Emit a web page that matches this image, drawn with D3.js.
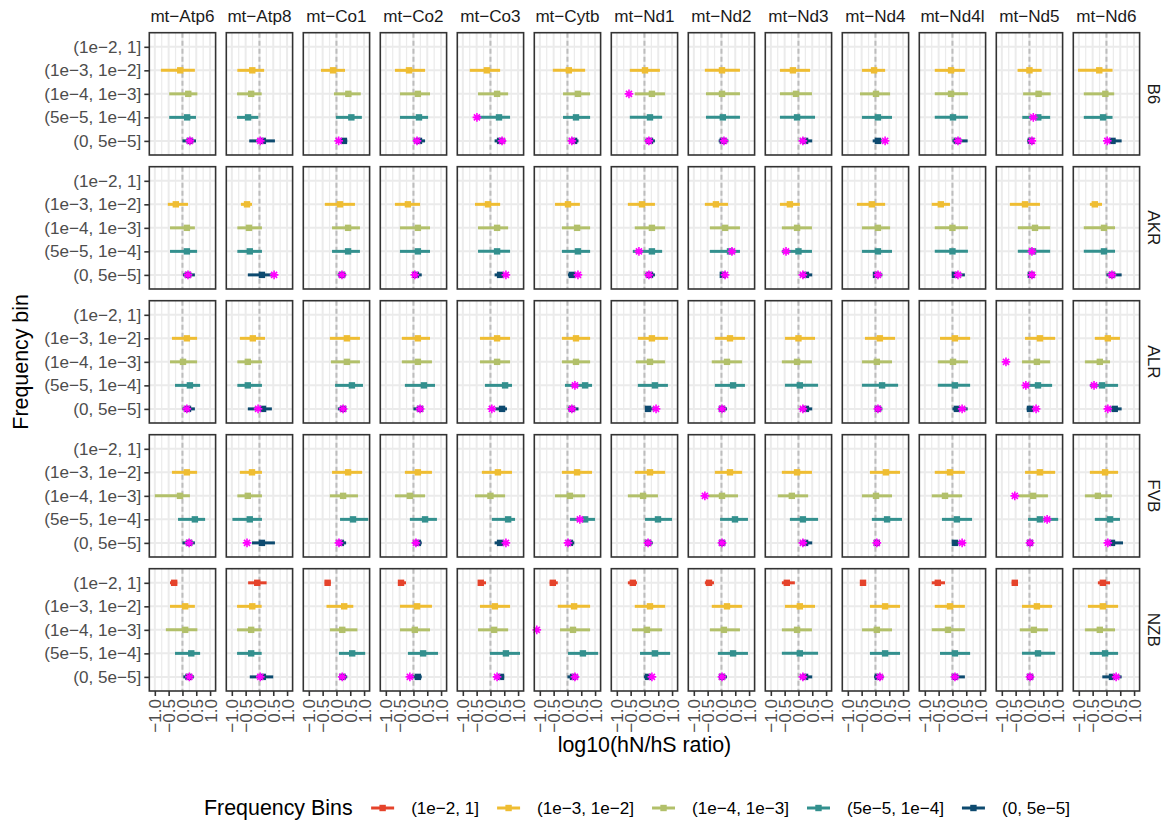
<!DOCTYPE html>
<html>
<head>
<meta charset="utf-8">
<script src="https://cdn.jsdelivr.net/npm/d3@7"></script>
<style>
  body { margin: 0; background: #fff; }
  text { font-family: "Liberation Sans", Arial, sans-serif; }
</style>
</head>
<body>
<svg id="chart" width="1170" height="826"></svg>
<script>
// categories
const genes = ["mt−Atp6","mt−Atp8","mt−Co1","mt−Co2","mt−Co3","mt−Cytb","mt−Nd1","mt−Nd2","mt−Nd3","mt−Nd4","mt−Nd4l","mt−Nd5","mt−Nd6"];
const strains = ["B6","AKR","ALR","FVB","NZB"];
const bins = ["(1e−2, 1]","(1e−3, 1e−2]","(1e−4, 1e−3]","(5e−5, 1e−4]","(0, 5e−5]"];
const binColors = ["#e5432b","#efbd32","#b2c06a","#33908e","#0d4a6f"];
const xTicks = [-1, -0.5, 0, 0.5, 1];

// [low, estimate, high] per gene, one array per strain and frequency bin
const B6_b1 = [[-0.78,-0.08,0.45],[-0.80,-0.26,0.17],[-0.56,-0.12,0.31],[-0.67,-0.16,0.42],[-0.75,-0.13,0.35],[-0.53,0.05,0.64],[-0.53,0.02,0.56],[-0.60,0.02,0.67],[-0.67,-0.20,0.42],[-0.49,-0.05,0.35],[-0.64,-0.05,0.45],[-0.43,0.0,0.44],[-1.03,-0.26,0.22]];
const B6_b2 = [[-0.48,0.21,0.54],[-0.81,-0.30,0.08],[-0.09,0.43,0.88],[-0.49,0.16,0.60],[-0.45,0.24,0.64],[-0.16,0.38,0.82],[-0.35,0.27,0.75],[-0.56,0.02,0.67],[-0.67,-0.09,0.49],[-0.56,0.02,0.53],[-0.64,-0.05,0.56],[-0.23,0.33,0.77],[-0.82,-0.04,0.28]];
const B6_b3 = [[-0.48,0.17,0.49],[-0.81,-0.41,-0.04],[-0.02,0.54,0.92],[-0.49,0.20,0.53],[-0.45,0.31,0.71],[-0.16,0.31,0.82],[-0.53,0.20,0.64],[-0.56,0.05,0.67],[-0.67,-0.05,0.60],[-0.49,0.09,0.60],[-0.64,0.02,0.56],[-0.26,0.32,0.75],[-0.82,-0.12,0.22]];
const B6_b4 = [[0.0,0.27,0.49],[-0.37,0.12,0.56],[0.0,0.27,0.39],[0.0,0.20,0.42],[0.15,0.35,0.55],[0.05,0.24,0.40],[0.02,0.20,0.38],[-0.10,0.05,0.25],[0.05,0.24,0.50],[-0.10,0.09,0.25],[0.0,0.16,0.55],[-0.08,0.05,0.10],[0.03,0.22,0.55]];

const AKR_b1 = [[-0.53,-0.24,0.20],[-0.67,-0.45,-0.27],[-0.42,0.13,0.67],[-0.67,-0.20,0.24],[-0.56,-0.09,0.35],[-0.45,0.02,0.45],[-0.60,-0.09,0.38],[-0.60,-0.20,0.24],[-0.67,-0.31,0.05],[-0.67,-0.13,0.35],[-0.75,-0.42,-0.09],[-0.71,-0.16,0.38],[-0.60,-0.42,-0.16]];
const AKR_b2 = [[-0.45,0.16,0.45],[-0.80,-0.38,0.09],[-0.16,0.42,0.85],[-0.49,0.16,0.60],[-0.45,0.24,0.64],[-0.20,0.35,0.82],[-0.35,0.27,0.75],[-0.42,0.13,0.67],[-0.60,-0.05,0.49],[-0.49,0.09,0.53],[-0.64,0.0,0.56],[-0.42,0.20,0.75],[-0.82,-0.09,0.31]];
const AKR_b3 = [[-0.45,0.16,0.53],[-0.80,-0.35,0.09],[-0.16,0.42,0.85],[-0.49,0.16,0.60],[-0.45,0.24,0.71],[-0.20,0.38,0.82],[-0.42,0.27,0.64],[-0.42,0.31,0.67],[-0.60,0.0,0.49],[-0.49,0.09,0.60],[-0.64,0.0,0.56],[-0.42,0.13,0.75],[-0.82,-0.09,0.31]];
const AKR_b4 = [[0.02,0.20,0.45],[-0.42,0.09,0.45],[0.05,0.20,0.35],[-0.05,0.09,0.30],[0.15,0.35,0.55],[0.02,0.16,0.40],[0.02,0.20,0.38],[-0.05,0.05,0.20],[0.05,0.27,0.50],[-0.05,0.02,0.25],[0.0,0.09,0.45],[-0.05,0.05,0.20],[0.0,0.20,0.55]];

const ALR_b1 = [[-0.38,0.16,0.53],[-0.71,-0.24,0.20],[-0.24,0.38,0.85],[-0.42,0.16,0.60],[-0.38,0.24,0.71],[-0.20,0.31,0.82],[-0.24,0.27,0.85],[-0.24,0.31,0.85],[-0.49,0.0,0.60],[-0.38,0.16,0.71],[-0.45,0.09,0.64],[-0.16,0.38,0.93],[-0.42,0.05,0.49]];
const ALR_b2 = [[-0.45,0.02,0.53],[-0.80,-0.42,0.09],[-0.20,0.38,0.85],[-0.42,0.16,0.67],[-0.38,0.24,0.71],[-0.20,0.31,0.82],[-0.31,0.20,0.75],[-0.35,0.20,0.75],[-0.60,-0.05,0.49],[-0.49,0.05,0.60],[-0.53,0.02,0.56],[-0.27,0.27,0.75],[-0.78,-0.24,0.13]];
const ALR_b3 = [[-0.27,0.27,0.64],[-0.80,-0.42,0.09],[-0.05,0.56,0.96],[-0.31,0.38,0.78],[-0.20,0.53,0.78],[-0.09,0.64,0.89],[-0.24,0.38,0.85],[-0.24,0.42,0.85],[-0.49,0.05,0.71],[-0.49,0.24,0.82],[-0.53,0.09,0.64],[-0.16,0.31,0.82],[-0.60,-0.16,0.42]];
const ALR_b4 = [[0.0,0.20,0.45],[-0.42,0.13,0.45],[0.05,0.24,0.35],[0.0,0.24,0.35],[0.15,0.42,0.60],[0.02,0.16,0.40],[0.02,0.13,0.38],[-0.10,0.02,0.20],[0.05,0.27,0.50],[-0.02,0.09,0.25],[0.0,0.16,0.55],[-0.10,0.02,0.15],[0.0,0.30,0.55]];

const FVB_b1 = [[-0.38,0.16,0.53],[-0.71,-0.27,0.09],[-0.16,0.42,0.93],[-0.31,0.16,0.67],[-0.31,0.27,0.78],[-0.20,0.35,0.89],[-0.35,0.20,0.75],[-0.24,0.31,0.75],[-0.60,-0.05,0.49],[-0.20,0.38,0.89],[-0.64,-0.09,0.45],[-0.16,0.38,0.93],[-0.60,-0.05,0.42]];
const FVB_b2 = [[-1.00,-0.09,0.27],[-0.80,-0.42,0.09],[-0.24,0.24,0.78],[-0.67,-0.13,0.42],[-0.56,0.0,0.53],[-0.45,0.09,0.64],[-0.60,-0.05,0.49],[-0.49,0.02,0.60],[-0.75,-0.24,0.35],[-0.49,0.02,0.60],[-0.75,-0.27,0.35],[-0.42,0.13,0.67],[-0.78,-0.31,0.20]];
const FVB_b3 = [[-0.16,0.45,0.82],[-0.98,-0.35,0.09],[0.13,0.60,1.15],[-0.13,0.42,0.85],[0.05,0.64,0.89],[0.09,0.64,1.0],[0.02,0.49,1.0],[-0.05,0.49,0.96],[-0.31,0.16,0.71],[-0.13,0.42,0.96],[-0.38,0.16,0.71],[-0.05,0.38,1.04],[-0.42,0.13,0.49]];
const FVB_b4 = [[0.0,0.24,0.45],[-0.27,0.09,0.56],[0.0,0.16,0.35],[-0.02,0.16,0.30],[0.15,0.35,0.55],[-0.05,0.09,0.25],[0.02,0.13,0.30],[-0.05,0.02,0.15],[0.05,0.24,0.50],[-0.02,0.05,0.15],[0.0,0.09,0.45],[-0.08,0.02,0.12],[0.0,0.20,0.60]];

const NZB_b0 = [[-0.45,-0.30,-0.19],[-0.41,-0.08,0.26],[-0.42,-0.32,-0.21],[-0.56,-0.45,-0.27],[-0.45,-0.35,-0.16],[-0.64,-0.53,-0.35],[-0.60,-0.42,-0.27],[-0.60,-0.45,-0.27],[-0.60,-0.42,-0.13],[-0.56,-0.45,-0.35],[-0.75,-0.53,-0.27],[-0.64,-0.53,-0.42],[-0.31,-0.13,0.13]];
const NZB_b1 = [[-0.45,0.10,0.45],[-0.81,-0.26,0.08],[-0.36,0.28,0.61],[-0.49,0.13,0.67],[-0.38,0.16,0.71],[-0.35,0.24,0.82],[-0.35,0.20,0.75],[-0.35,0.20,0.75],[-0.49,0.05,0.60],[-0.20,0.35,0.89],[-0.64,-0.09,0.45],[-0.27,0.27,0.82],[-0.67,-0.13,0.42]];
const NZB_b2 = [[-0.60,0.10,0.54],[-0.81,-0.30,0.08],[-0.24,0.21,0.76],[-0.49,0.05,0.60],[-0.45,0.13,0.64],[-0.27,0.20,0.82],[-0.45,0.09,0.64],[-0.42,0.09,0.67],[-0.60,-0.05,0.49],[-0.49,0.05,0.60],[-0.75,-0.16,0.45],[-0.35,0.16,0.67],[-0.78,-0.24,0.31]];
const NZB_b3 = [[-0.27,0.32,0.64],[-0.81,-0.30,0.08],[0.09,0.57,1.04],[-0.20,0.35,0.89],[-0.02,0.56,1.07],[0.02,0.56,1.11],[-0.16,0.38,0.93],[-0.13,0.42,0.96],[-0.60,0.05,0.71],[-0.20,0.35,0.89],[-0.45,0.09,0.64],[-0.27,0.31,0.93],[-0.60,-0.05,0.42]];
const NZB_b4 = [[0.03,0.22,0.42],[-0.35,0.12,0.50],[0.13,0.22,0.39],[-0.05,0.16,0.30],[0.15,0.38,0.50],[0.0,0.20,0.40],[-0.02,0.13,0.30],[-0.08,0.02,0.20],[0.05,0.24,0.50],[-0.05,0.09,0.30],[0.0,0.09,0.45],[-0.08,0.02,0.15],[-0.15,0.20,0.55]];

// observed ratios (magenta stars): [gene index, bin index, value]
const B6_obs = [[0,4,0.27],[1,4,0.03],[2,4,0.08],[3,4,0.13],[4,3,-0.49],[4,4,0.42],[5,4,0.16],[6,2,-0.56],[6,4,0.16],[7,4,0.09],[8,4,0.16],[9,4,0.35],[10,4,0.20],[11,3,0.14],[11,4,0.09],[12,4,0.03]];
const AKR_obs = [[0,4,0.20],[1,4,0.53],[2,4,0.20],[3,4,0.05],[4,4,0.56],[5,4,0.38],[6,3,-0.20],[6,4,0.16],[7,3,0.38],[7,4,0.13],[8,3,-0.45],[8,4,0.16],[9,4,0.09],[10,4,0.20],[11,3,0.09],[11,4,0.09],[12,4,0.20]];
const ALR_obs = [[0,4,0.16],[1,4,-0.05],[2,4,0.24],[3,4,0.24],[4,4,0.05],[5,3,0.27],[5,4,0.16],[6,4,0.42],[7,4,0.02],[8,4,0.16],[9,4,0.09],[10,4,0.35],[11,2,-0.85],[11,3,-0.13],[11,4,0.24],[12,3,-0.45],[12,4,0.05]];
const FVB_obs = [[0,4,0.24],[1,4,-0.45],[2,4,0.09],[3,4,0.09],[4,4,0.56],[5,3,0.45],[5,4,0.02],[6,4,0.13],[7,2,-0.60],[7,4,0.02],[8,4,0.16],[9,4,0.05],[10,4,0.35],[11,2,-0.53],[11,3,0.64],[11,4,0.02],[12,4,0.05]];
const NZB_obs = [[0,4,0.25],[1,4,0.03],[2,4,0.21],[3,4,-0.13],[4,4,0.24],[5,2,-1.11],[5,4,0.27],[6,4,0.27],[7,4,0.02],[8,4,0.16],[9,4,0.16],[10,4,0.09],[11,4,0.02],[12,4,0.35]];

const strainBins = {
  B6: [null, B6_b1, B6_b2, B6_b3, B6_b4],
  AKR: [null, AKR_b1, AKR_b2, AKR_b3, AKR_b4],
  ALR: [null, ALR_b1, ALR_b2, ALR_b3, ALR_b4],
  FVB: [null, FVB_b1, FVB_b2, FVB_b3, FVB_b4],
  NZB: [NZB_b0, NZB_b1, NZB_b2, NZB_b3, NZB_b4]
};
const strainObs = { B6: B6_obs, AKR: AKR_obs, ALR: ALR_obs, FVB: FVB_obs, NZB: NZB_obs };

// layout
const panelX0 = 149.3, colStep = 77, panelW = 66.3;
const panelY0 = 32.7, rowStep = 134, panelH = 122.3;
const tickFont = 17.1, titleFont = 21.4;

const svg = d3.select('#chart');

const x = d3.scaleLinear().domain([-1.2, 1.2]).range([0, panelW]);
const y = d3.scalePoint().domain(bins).range([0, panelH]).padding(0.6);

const starPath = (r) => {
  const k = r * 0.7071;
  return `M${-r},0H${r}M0,${-r}V${r}M${-k},${-k}L${k},${k}M${-k},${k}L${k},${-k}`;
};

strains.forEach((strain, r) => {
  genes.forEach((gene, c) => {
    const g = svg.append('g')
      .attr('transform', `translate(${panelX0 + c * colStep},${panelY0 + r * rowStep})`);

    g.append('rect').attr('width', panelW).attr('height', panelH).attr('fill', '#fff');

    // grid
    g.selectAll('.minor').data([-0.75, -0.25, 0.25, 0.75]).join('line')
      .attr('x1', d => x(d)).attr('x2', d => x(d))
      .attr('y1', 0).attr('y2', panelH)
      .attr('stroke', '#ebebeb').attr('stroke-width', 1.2);
    g.selectAll('.major').data(xTicks).join('line')
      .attr('x1', d => x(d)).attr('x2', d => x(d))
      .attr('y1', 0).attr('y2', panelH)
      .attr('stroke', '#ebebeb').attr('stroke-width', 2);
    g.selectAll('.hgrid').data(bins).join('line')
      .attr('x1', 0).attr('x2', panelW)
      .attr('y1', d => y(d)).attr('y2', d => y(d))
      .attr('stroke', '#ebebeb').attr('stroke-width', 2);

    // reference line at 0
    g.append('line')
      .attr('x1', x(0)).attr('x2', x(0))
      .attr('y1', 0).attr('y2', panelH)
      .attr('stroke', '#bdbdbd').attr('stroke-width', 2)
      .attr('stroke-dasharray', '5,3');

    // estimates with intervals
    const rows = [];
    strainBins[strain].forEach((arr, b) => {
      if (arr) rows.push({ bin: b, lo: arr[c][0], mid: arr[c][1], hi: arr[c][2] });
    });
    g.selectAll('.bar').data(rows).join('line')
      .attr('x1', d => x(d.lo)).attr('x2', d => x(d.hi))
      .attr('y1', d => y(bins[d.bin])).attr('y2', d => y(bins[d.bin]))
      .attr('stroke', d => binColors[d.bin]).attr('stroke-width', 3);
    g.selectAll('.pt').data(rows).join('rect')
      .attr('x', d => x(d.mid) - 3.2).attr('y', d => y(bins[d.bin]) - 3.2)
      .attr('width', 6.4).attr('height', 6.4)
      .attr('fill', d => binColors[d.bin]);

    // observed
    const obs = strainObs[strain].filter(d => d[0] === c);
    g.selectAll('.obs').data(obs).join('path')
      .attr('d', starPath(4.3))
      .attr('transform', d => `translate(${x(d[2])},${y(bins[d[1]])})`)
      .attr('fill', 'none').attr('stroke', '#ff00ff').attr('stroke-width', 1.6);

    g.append('rect').attr('width', panelW).attr('height', panelH)
      .attr('fill', 'none').attr('stroke', '#333').attr('stroke-width', 1.6);

    // axes
    if (c === 0) {
      const ax = g.append('g').call(d3.axisLeft(y).tickSize(5).tickPadding(3));
      ax.select('.domain').remove();
      ax.selectAll('line').attr('stroke', '#333').attr('stroke-width', 1.6);
      ax.selectAll('text').attr('fill', '#4d4d4d').attr('font-size', tickFont)
        .attr('font-family', '"Liberation Sans", Arial, sans-serif');
    }
    if (r === strains.length - 1) {
      const ax = g.append('g').attr('transform', `translate(0,${panelH})`)
        .call(d3.axisBottom(x).tickValues(xTicks).tickFormat(d3.format('.1f')).tickSize(5));
      ax.select('.domain').remove();
      ax.selectAll('line').attr('stroke', '#333').attr('stroke-width', 1.6);
      ax.selectAll('text').attr('fill', '#4d4d4d').attr('font-size', tickFont)
        .attr('font-family', '"Liberation Sans", Arial, sans-serif')
        .attr('text-anchor', 'end')
        .attr('transform', 'translate(0,8) rotate(-90)')
        .attr('x', 0).attr('y', 0).attr('dy', '0.35em');
    }
  });
});

// strip labels
svg.selectAll('.gene-strip').data(genes).join('text')
  .attr('x', (d, i) => panelX0 + i * colStep + panelW / 2)
  .attr('y', 22)
  .attr('text-anchor', 'middle')
  .attr('font-size', tickFont).attr('fill', '#1a1a1a')
  .text(d => d);

svg.selectAll('.strain-strip').data(strains).join('text')
  .attr('transform', (d, i) => `translate(1148,${panelY0 + i * rowStep + panelH / 2}) rotate(90)`)
  .attr('text-anchor', 'middle')
  .attr('font-size', tickFont).attr('fill', '#1a1a1a')
  .text(d => d);

// axis titles
const plotMidX = panelX0 + (genes.length - 1) * colStep / 2 + panelW / 2;
const plotMidY = panelY0 + (strains.length - 1) * rowStep / 2 + panelH / 2;
svg.append('text')
  .attr('x', plotMidX).attr('y', 752)
  .attr('text-anchor', 'middle').attr('font-size', titleFont)
  .text('log10(hN/hS ratio)');
svg.append('text')
  .attr('transform', `translate(28,${plotMidY}) rotate(-90)`)
  .attr('text-anchor', 'middle').attr('font-size', titleFont)
  .text('Frequency bin');

// legend
const legY = 808;
const leg = svg.append('g');
const legTitle = leg.append('text')
  .attr('x', 204).attr('y', legY).attr('dy', '0.35em')
  .attr('font-size', titleFont).text('Frequency Bins');
let lx = 204 + legTitle.node().getComputedTextLength() + 16.5;
bins.forEach((b, i) => {
  leg.append('line')
    .attr('x1', lx + 2).attr('x2', lx + 25)
    .attr('y1', legY).attr('y2', legY)
    .attr('stroke', binColors[i]).attr('stroke-width', 3);
  leg.append('rect')
    .attr('x', lx + 13.5 - 3.2).attr('y', legY - 3.2)
    .attr('width', 6.4).attr('height', 6.4)
    .attr('fill', binColors[i]);
  const t = leg.append('text')
    .attr('x', lx + 42).attr('y', legY).attr('dy', '0.35em')
    .attr('font-size', tickFont).attr('fill', '#000').text(b);
  lx += 42 + t.node().getComputedTextLength() + 16;
});
</script>
</body>
</html>
